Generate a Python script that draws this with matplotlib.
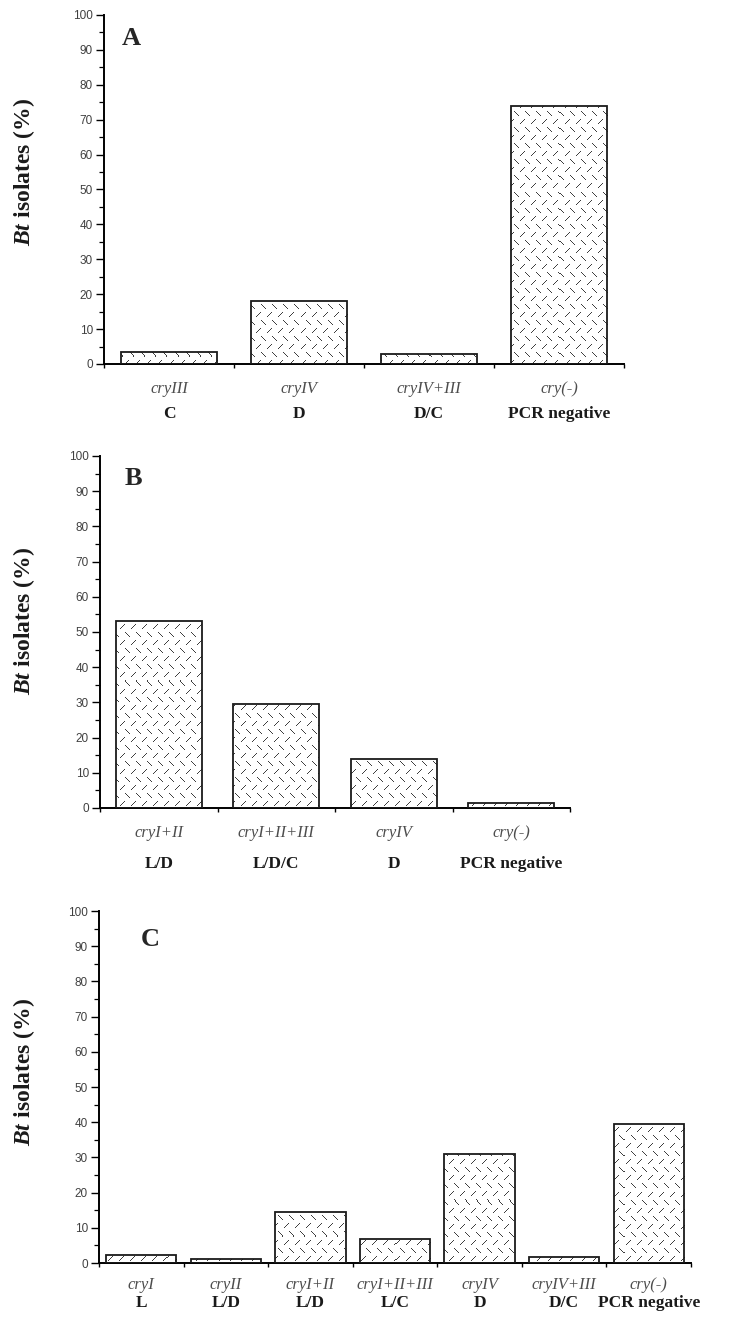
import matplotlib
matplotlib.use("Agg")
import matplotlib.pyplot as plt
from matplotlib.ticker import MultipleLocator
import numpy as np

# ---- data (percent of Bt isolates) ----
GENES_A = ["cryIII", "cryIV", "cryIV+III", "cry(-)"]
GROUPS_A = ["C", "D", "D/C", "PCR negative"]
VALS_A = [3.5, 18.0, 2.8, 74.0]

GENES_B = ["cryI+II", "cryI+II+III", "cryIV", "cry(-)"]
GROUPS_B = ["L/D", "L/D/C", "D", "PCR negative"]
VALS_B = [53.2, 29.5, 13.8, 1.4]

GENES_C = ["cryI", "cryII", "cryI+II", "cryI+II+III", "cryIV", "cryIV+III", "cry(-)"]
GROUPS_C = ["L", "L/D", "L/D", "L/C", "D", "D/C", "PCR negative"]
VALS_C = [2.4, 1.0, 14.5, 6.7, 31.0, 1.6, 39.5]

W, H = 732, 1333
SERIF = ["Liberation Serif", "DejaVu Serif"]
SANS = ["Liberation Sans", "DejaVu Sans"]

plt.rcParams.update({"font.family": SANS})
plt.rcParams["mathtext.fontset"] = "custom"
plt.rcParams["mathtext.it"] = "Liberation Serif:italic:bold"
plt.rcParams["mathtext.bf"] = "Liberation Serif:bold"
plt.rcParams["mathtext.bfit"] = "Liberation Serif:italic:bold"

fig = plt.figure(figsize=(W / 100, H / 100), dpi=100)


def px_axes(left, right, top, bottom):
    return fig.add_axes([left / W, 1 - bottom / H, (right - left) / W, (bottom - top) / H])


def dash_texture(w, h, cw=11, ch=8):
    """Stipple fill: rows of short strokes, alternating \\ and / row by row."""
    yy, xx = np.mgrid[0:h, 0:w]
    j = yy // ch
    u = (xx + (j % 2) * (cw // 2)) % cw
    v = yy % ch
    t = u - 3
    seg = (t >= 0) & (t <= 4)
    back = np.abs(v - (1 + t)) < 0.6
    fore = np.abs(v - (5 - t)) < 0.6
    on = np.where(j % 2 == 0, back, fore) & seg
    rgba = np.zeros((h, w, 4))
    rgba[..., :3] = 0.2
    rgba[..., 3] = on * 0.95
    return rgba


def panel(box, genes, groups, vals, width, letter, letter_xy, ylab_y, offs):
    ax = px_axes(*box)
    n = len(vals)
    x = np.arange(n)
    tex = dash_texture(box[1] - box[0], box[3] - box[2])

    bars = ax.bar(x, vals, width=width, color="white", linewidth=0, zorder=1)
    for b in bars:
        im = ax.imshow(tex, extent=(-0.5, n - 0.5, 0, 100), aspect="auto",
                       interpolation="nearest", zorder=2)
        im.set_clip_path(b)
    ax.bar(x, vals, width=width, color="none", edgecolor="0.1", linewidth=1.3, zorder=4)

    ax.set_xlim(-0.5, n - 0.5)
    ax.set_ylim(0, 100)
    for s in ("top", "right"):
        ax.spines[s].set_visible(False)
    ax.spines["left"].set_linewidth(1.4)
    ax.spines["bottom"].set_linewidth(1.4)

    ax.yaxis.set_major_locator(MultipleLocator(10))
    ax.yaxis.set_minor_locator(MultipleLocator(5))
    ax.tick_params(axis="y", which="major", length=6, width=1.0, labelsize=8.5,
                   labelcolor="0.25", pad=2)
    ax.tick_params(axis="y", which="minor", length=3.5, width=0.9)

    # x ticks at category boundaries, no labels
    ax.set_xticks(np.arange(n + 1) - 0.5)
    ax.set_xticklabels([])
    ax.tick_params(axis="x", length=3, width=1.0, direction="out")

    for i, (g, grp) in enumerate(zip(genes, groups)):
        ax.annotate(g, xy=(i, 0), xycoords=("data", "axes fraction"),
                    xytext=(0, -offs[0]), textcoords="offset points",
                    ha="center", va="center", fontsize=12, style="italic",
                    color="0.3", family=SERIF)
        ax.annotate(grp, xy=(i, 0), xycoords=("data", "axes fraction"),
                    xytext=(0, -offs[1]), textcoords="offset points",
                    ha="center", va="center", fontsize=12.5, fontweight="bold",
                    color="0.1", family=SERIF)

    ax.text(letter_xy[0], letter_xy[1], letter, transform=ax.transAxes, fontsize=19,
            fontweight="bold", family=SERIF, color="0.15", ha="center", va="center")

    fig.text(24 / W, 1 - ylab_y / H, r"$\mathbf{\mathit{Bt}}$ isolates (%)",
             rotation=90, ha="center", va="center", fontsize=17,
             fontweight="bold", family=SERIF, color="0.1")
    return ax


panel((104, 624, 15, 364), GENES_A, GROUPS_A, VALS_A, 0.74, "A", (0.052, 0.934), 172, (18, 36))
panel((100, 570, 456, 808), GENES_B, GROUPS_B, VALS_B, 0.73, "B", (0.072, 0.935), 621, (18, 40))
panel((99, 691, 911, 1263), GENES_C, GROUPS_C, VALS_C, 0.83, "C", (0.086, 0.918), 1072, (16, 29))

fig.savefig("out.png", dpi=100)
